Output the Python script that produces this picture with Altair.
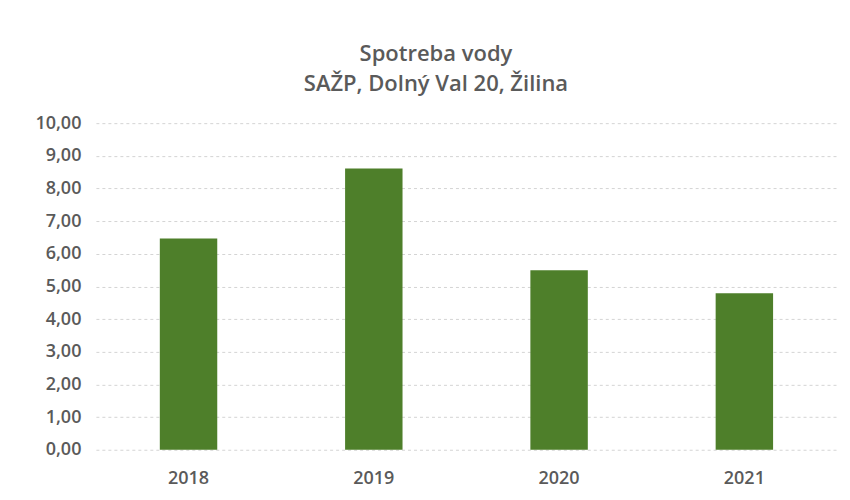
import altair as alt
import pandas as pd

years = ["2018", "2019", "2020", "2021"]
values = [6.47, 8.61, 5.50, 4.79]
y_ticks = [0, 1, 2, 3, 4, 5, 6, 7, 8, 9, 10]

df = pd.DataFrame({"rok": years, "spotreba": values})

chart = alt.Chart(df).mark_bar(color="#4e7f2a").encode(
    x=alt.X("rok:N", sort=years, title=None,
            scale=alt.Scale(paddingInner=0.69, paddingOuter=0.345),
            axis=alt.Axis(labelAngle=0, ticks=False, domain=False, labelPadding=20,
                          labelFont="Open Sans", labelFontSize=18, labelFontWeight=600,
                          labelColor="#5a5a5a")),
    y=alt.Y("spotreba:Q", title=None,
            scale=alt.Scale(domain=[0, 10], nice=False),
            axis=alt.Axis(values=y_ticks, ticks=False, domain=False, labelPadding=15,
                          labelExpr="replace(format(datum.value, '.2f'), '.', ',')",
                          labelFont="Open Sans", labelFontSize=18, labelFontWeight=600,
                          labelColor="#5a5a5a",
                          gridColor="#d4d4d4", gridDash=[3, 3], gridWidth=1)),
).properties(
    width=742,
    height=327,
    background="white",
    title=alt.TitleParams(["Spotreba vody", "SAŽP, Dolný Val 20, Žilina"],
                          font="Open Sans", fontSize=22, fontWeight=600,
                          color="#5a5a5a", lineHeight=30, offset=18,
                          anchor="middle", frame="bounds"),
    padding={"left": 26, "top": 35, "right": 5, "bottom": 5},
).configure_view(stroke="transparent", strokeWidth=0)

chart.save("out.html", embed_options={"renderer": "svg", "actions": False})
